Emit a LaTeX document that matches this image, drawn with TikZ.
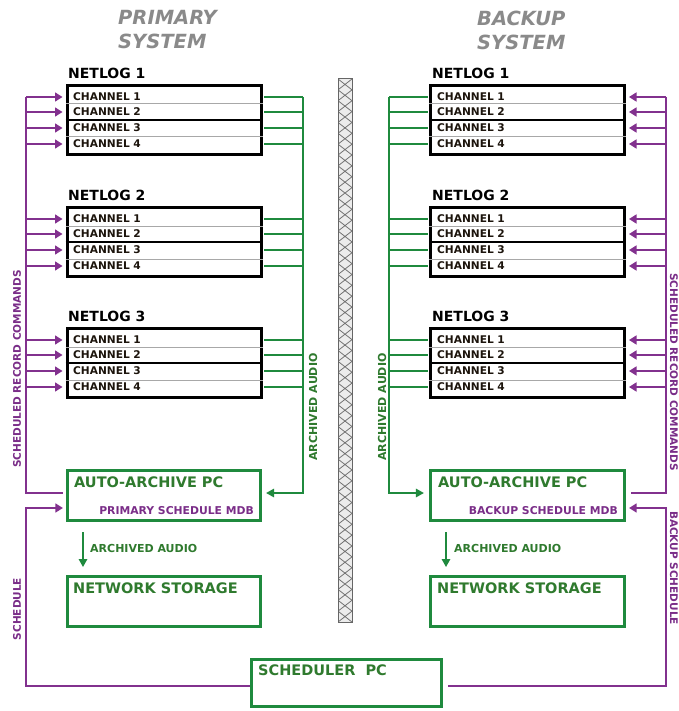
\documentclass[tikz,border=0pt]{standalone}
\usepackage{fontspec}
\setmainfont{DejaVu Sans}
\usetikzlibrary{arrows.meta}
\definecolor{pcol}{HTML}{82318E}
\definecolor{ptext}{HTML}{7A2D88}
\definecolor{gcol}{HTML}{1F8A3E}
\definecolor{gtext}{HTML}{2F7A2E}
\definecolor{titlecol}{HTML}{8A8A8A}
\definecolor{chcol}{HTML}{1C140C}
\definecolor{sepcol}{HTML}{A8A8A8}
\tikzset{
  nlbox/.style={draw=black, line width=3pt, minimum width=194pt, minimum height=69pt, inner sep=0pt},
  gbx/.style={draw=gcol, line width=3.2pt, inner sep=0pt},
  chtxt/.style={anchor=west, inner sep=0pt, font=\fontsize{10.6}{12}\selectfont\bfseries, text=chcol},
  nltitle/.style={anchor=west, inner sep=0pt, font=\fontsize{14}{16}\selectfont\bfseries, text=black},
  titletxt/.style={anchor=north west, align=left, inner sep=0pt, font=\fontsize{19.5}{24}\selectfont\bfseries\itshape, text=titlecol},
  boxtxt/.style={anchor=west, inner sep=0pt, font=\fontsize{14.5}{16}\selectfont\bfseries, text=gtext},
  mdbtxt/.style={anchor=east, inner sep=0pt, font=\fontsize{10.8}{12}\selectfont\bfseries, text=ptext},
  adtxt/.style={anchor=west, inner sep=0pt, font=\fontsize{11}{12}\selectfont\bfseries, text=gtext},
  ptxt/.style={inner sep=0pt, font=\fontsize{10.5}{12}\selectfont\bfseries, text=ptext},
  gtxt/.style={inner sep=0pt, font=\fontsize{11}{12}\selectfont\bfseries, text=gtext},
  sepgray/.style={draw=sepcol, line width=1pt},
  sepblack/.style={draw=black, line width=1.6pt},
  pln/.style={draw=pcol, line width=1.5pt},
  par/.style={pln, -{Triangle[length=7.5pt,width=9pt]}, shorten >=3pt},
  gln/.style={draw=gcol, line width=1.5pt},
  gar/.style={gln, -{Triangle[length=8pt,width=8.5pt]}},
  hatch/.style={draw=gray!90!black, line width=0.8pt}
}
\begin{document}
\begin{tikzpicture}[x=1pt,y=-1pt]
\useasboundingbox (0,0) rectangle (678,711);
\fill[white] (0,0) rectangle (678,711);

% titles
\node[titletxt] (tp) at (118,10.5) {PRIMARY\\SYSTEM};
\node[titletxt] (tb) at (477,10.5) {BACKUP\\SYSTEM};

% bus coordinates
\coordinate (PL) at (26,97);
\coordinate (PR) at (666,97);
\coordinate (GL) at (303,97);
\coordinate (GR) at (389,97);
\coordinate (AY) at (0,493);
\coordinate (SB) at (0,508);
\coordinate (SY) at (0,686);

% hatched divider
\fill[gray!15] (338,79) rectangle (352,622);
\begin{scope}
  \clip (338,79) rectangle (352,622);
  \foreach \i in {0,...,49} {
    \draw[hatch] (338,79+\i*10.86) -- (352,79+\i*10.86+10.86)
                 (352,79+\i*10.86) -- (338,79+\i*10.86+10.86);
  }
\end{scope}
\draw[draw=gray!80!black, line width=1pt] (338,79) rectangle (352,622);

% primary netlogs
\foreach \n/\cy in {1/120,2/242,3/363}{
  \node[nlbox] (p\n) at (164,\cy) {};
  \node[nltitle] (p\n-t) at (68,\cy-47) {NETLOG \n};
  \draw[sepgray] ([yshift=16pt]p\n.west) -- ([yshift=16pt]p\n.east);
  \draw[sepblack] (p\n.west) -- (p\n.east);
  \draw[sepgray] ([yshift=-17pt]p\n.west) -- ([yshift=-17pt]p\n.east);
  \foreach \c/\dy in {1/-23,2/-8,3/8,4/24}{
    \node[chtxt] (p\n-c\c) at (73,\cy+\dy) {CHANNEL \c};
    \draw[par] (PL |- p\n-c\c) -- (p\n.west |- p\n-c\c);
    \draw[gln, shorten <=1.5pt] (p\n.east |- p\n-c\c) -- (GL |- p\n-c\c);
  }
}

% backup netlogs
\foreach \n/\cy in {1/120,2/242,3/363}{
  \node[nlbox] (b\n) at (527.5,\cy) {};
  \node[nltitle] (b\n-t) at (432,\cy-47) {NETLOG \n};
  \draw[sepgray] ([yshift=16pt]b\n.west) -- ([yshift=16pt]b\n.east);
  \draw[sepblack] (b\n.west) -- (b\n.east);
  \draw[sepgray] ([yshift=-17pt]b\n.west) -- ([yshift=-17pt]b\n.east);
  \foreach \c/\dy in {1/-23,2/-8,3/8,4/24}{
    \node[chtxt] (b\n-c\c) at (437,\cy+\dy) {CHANNEL \c};
    \draw[par] (PR |- b\n-c\c) -- (b\n.east |- b\n-c\c);
    \draw[gln, shorten <=1.5pt] (b\n.west |- b\n-c\c) -- (GR |- b\n-c\c);
  }
}

% boxes
\node[gbx, minimum width=193pt, minimum height=50pt] (aap) at (164,495.5) {};
\node[gbx, minimum width=194pt, minimum height=50pt] (aab) at (527.5,495.5) {};
\node[gbx, minimum width=193pt, minimum height=50pt] (nsp) at (164,601.5) {};
\node[gbx, minimum width=194pt, minimum height=50pt] (nsb) at (527.5,601.5) {};
\node[gbx, minimum width=190pt, minimum height=47pt] (sch) at (346.5,683) {};

\node[boxtxt] (aap-t) at (74,482) {AUTO-ARCHIVE PC};
\node[mdbtxt] (aap-m) at (254,511) {PRIMARY SCHEDULE MDB};
\node[boxtxt] (aab-t) at (438,482) {AUTO-ARCHIVE PC};
\node[mdbtxt] (aab-m) at (618,511) {BACKUP SCHEDULE MDB};
\node[boxtxt] (nsp-t) at (73,588) {NETWORK STORAGE};
\node[boxtxt] (nsb-t) at (437,588) {NETWORK STORAGE};
\node[boxtxt] (sch-t) at (258,670) {SCHEDULER~~PC};

% buses to auto-archive
\draw[pln, shorten >=3pt] (PL) |- (aap.west |- AY);
\draw[gar, shorten >=4pt] (GL) |- (aap.east |- AY);
\draw[pln, shorten >=5pt] (PR) |- (aab.east |- AY);
\draw[gar, shorten >=5pt] (GR) |- (aab.west |- AY);

% schedule lines
\draw[par] (sch.west |- SY) -| (PL |- SB) -- (aap.west |- SB);
\draw[par, shorten <=5pt] (sch.east |- SY) -| (PR |- SB) -- (aab.east |- SB);

% archived audio to storage
\coordinate (adp) at (83,532);
\coordinate (adpe) at (83,567);
\coordinate (adb) at (446,532);
\coordinate (adbe) at (446,567);
\draw[gar] (adp) -- (adpe);
\draw[gar] (adb) -- (adbe);
\node[adtxt] (adp-t) at (90,548) {ARCHIVED AUDIO};
\node[adtxt] (adb-t) at (454,548) {ARCHIVED AUDIO};

% rotated labels
\node[ptxt, rotate=90] (srcp) at (17,369) {SCHEDULED RECORD COMMANDS};
\node[ptxt, rotate=90] (schp) at (17,609) {SCHEDULE};
\node[ptxt, rotate=-90] (srcb) at (674,372) {SCHEDULED RECORD COMMANDS};
\node[ptxt, rotate=-90] (schb) at (674,568) {BACKUP SCHEDULE};
\node[gtxt, rotate=90] (arp) at (313,407) {ARCHIVED AUDIO};
\node[gtxt, rotate=90] (arb) at (382,407) {ARCHIVED AUDIO};
\end{tikzpicture}
\end{document}
